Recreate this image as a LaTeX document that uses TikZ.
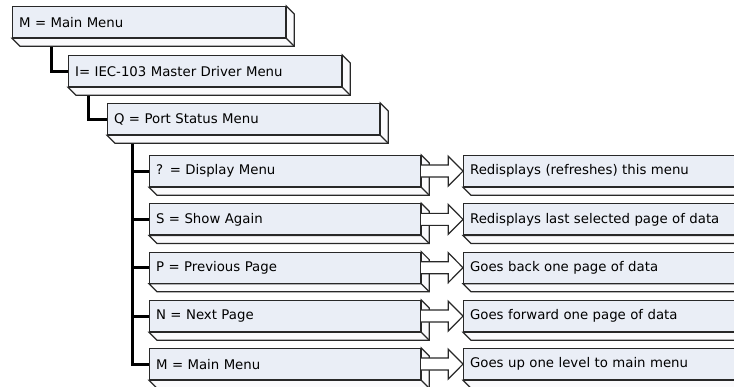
\documentclass[tikz,border=0pt]{standalone}
\usepackage{fontspec}
\setmainfont{DejaVu Sans}
\usetikzlibrary{calc,backgrounds}
\definecolor{boxfill}{RGB}{234,238,246}
\definecolor{facefill}{RGB}{250,250,252}
\definecolor{edge}{RGB}{40,40,40}
\tikzset{
  mbox/.style={draw=edge, line width=1.2pt, fill=boxfill, anchor=north west,
    minimum height=31pt, inner xsep=6.5pt, inner ysep=0pt, text width=#1,
    align=left, font=\fontsize{13.3}{15}\selectfont},
  face/.style={draw=edge, line width=1.2pt, fill=facefill, line join=miter},
  conn/.style={draw=black, line width=3pt},
  blockarrow/.style={draw=edge, line width=1.2pt, fill=white, line join=miter},
}
\newcommand\boxfaces[1]{%
  \filldraw[face] (#1.south west) -- ($(#1.south west)+(8,8)$) -- ($(#1.south east)+(8,8)$)
    -- ($(#1.north east)+(8,8)$) -- (#1.north east) -- (#1.south east) -- cycle;
  \draw[face] (#1.south east) -- ($(#1.south east)+(8,8)$);}
\newcommand\hollowarrow[2]{%
  \filldraw[blockarrow] ($(#1.east)+(0,-6)$) -- ($(#1.east)+(27,-6)$) -- ($(#1.east)+(27,-15)$)
    -- (#2.west) -- ($(#1.east)+(27,15)$) -- ($(#1.east)+(27,6)$) -- ($(#1.east)+(0,6)$);}
\begin{document}
\begin{tikzpicture}[x=1pt,y=-1pt]
  \useasboundingbox (0,0) rectangle (734,387);
  \clip (0,0) rectangle (734,387);
  % boxes
  \node[mbox=260pt] (m) at (12,6) {M = Main Menu};
  \node[mbox=260pt] (i) at (68,55) {I= IEC-103 Master Driver Menu};
  \node[mbox=259pt] (q) at (107,103) {Q = Port Status Menu};
  \node[mbox=258pt] (c1) at (149,155) {? = Display Menu};
  \node[mbox=258pt] (c2) at (149,203.3) {S = Show Again};
  \node[mbox=258pt] (c3) at (149,251.6) {P = Previous Page};
  \node[mbox=258pt] (c4) at (149,300) {N = Next Page};
  \node[mbox=258pt] (c5) at (149,348) {M = Main Menu};
  \node[mbox=288pt] (r1) at (463,155) {Redisplays (refreshes) this menu};
  \node[mbox=288pt] (r2) at (463,203.3) {Redisplays last selected page of data};
  \node[mbox=288pt] (r3) at (463,251.6) {Goes back one page of data};
  \node[mbox=288pt] (r4) at (463,300) {Goes forward one page of data};
  \node[mbox=288pt] (r5) at (463,348) {Goes up one level to main menu};
  % 3D faces
  \foreach \b in {m,i,q,c1,c2,c3,c4,c5,r1,r2,r3,r4,r5} \boxfaces{\b};
  % connectors behind the boxes
  \coordinate (t1) at (51,44);
  \coordinate (t2) at (88,93);
  \coordinate (t3) at (132,141);
  \begin{scope}[on background layer]
    \fill[white] (0,0) rectangle (734,387);
    \draw[conn] (t1) |- (i.west);
    \draw[conn] (t2) |- (q.west);
    \foreach \c in {c1,c2,c3,c4,c5} \draw[conn] (t3) |- (\c.west);
  \end{scope}
  % block arrows
  \hollowarrow{c1}{r1}
  \hollowarrow{c2}{r2}
  \hollowarrow{c3}{r3}
  \hollowarrow{c4}{r4}
  \hollowarrow{c5}{r5}
\end{tikzpicture}
\end{document}
